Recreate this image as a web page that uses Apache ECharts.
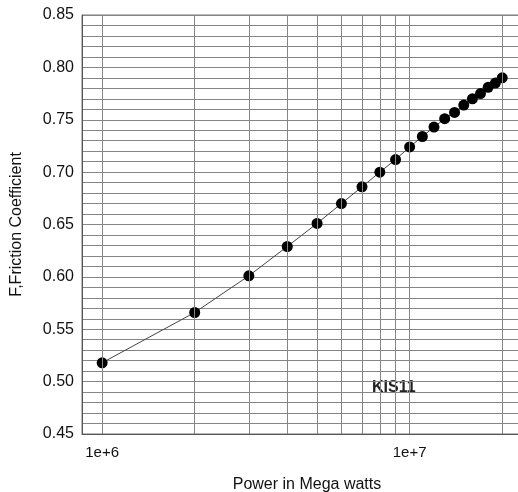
<!DOCTYPE html>
<html>
<head>
<meta charset="utf-8">
<script src="https://cdn.jsdelivr.net/npm/echarts@6/dist/echarts.min.js"></script>
<style>
  html, body { margin: 0; padding: 0; background: #fff; overflow: hidden; }
  #chart { width: 518px; height: 492px; }
</style>
</head>
<body>
<div id="chart"></div>
<script>
// power values (x, log axis) and friction coefficient readings
const power = [1e6, 2e6, 3e6, 4e6, 5e6, 6e6, 7e6, 8e6, 9e6, 1e7,
  1.1e7, 1.2e7, 1.3e7, 1.4e7, 1.5e7, 1.6e7, 1.7e7, 1.8e7, 1.9e7, 2e7]
const friction = [0.518, 0.566, 0.601, 0.629, 0.651, 0.670, 0.686, 0.700, 0.712, 0.724,
  0.734, 0.743, 0.751, 0.757, 0.764, 0.770, 0.775, 0.781, 0.785, 0.790]
// vertical grid lines of the log paper
const xGrid = [1e6, 2e6, 3e6, 4e6, 5e6, 6e6, 7e6, 8e6, 9e6, 1e7, 2e7]
const xMin = 8.6e5
const xMax = 2.5e7
const yMin = 0.45
const yMax = 0.85
const yStep = 0.05

const chart = echarts.init(document.getElementById("chart"))

const font = "Arial, 'Liberation Sans', sans-serif"
const gridColor = "#858585"

const option = {
  animation: false,
  grid: {
    left: 82,
    right: -14,
    top: 15,
    bottom: 58,
    outerBoundsMode: "none",
    containLabel: false,
    show: true,
    borderColor: "#777",
    borderWidth: 1,
  },
  xAxis: {
    type: "log",
    logBase: 10,
    min: xMin,
    max: xMax,
    name: "Power in Mega watts",
    nameLocation: "middle",
    nameGap: 43,
    nameTextStyle: { fontSize: 16, color: "#111", fontFamily: font },
    axisLine: { show: true, lineStyle: { color: "#555" } },
    axisTick: { show: false },
    splitLine: { show: false },
    axisLabel: {
      margin: 11,
      fontSize: 15,
      color: "#111",
      fontFamily: font,
      showMinLabel: false,
      showMaxLabel: false,
      formatter: (v) => {
        const e = Math.log10(v)
        return Math.abs(e - Math.round(e)) < 1e-6 ? "1e+" + Math.round(e) : ""
      },
    },
  },
  yAxis: {
    type: "value",
    min: yMin,
    max: yMax,
    interval: yStep,
    name: "F,Friction Coefficient",
    nameLocation: "middle",
    nameGap: 57,
    nameTextStyle: { fontSize: 16, color: "#111", fontFamily: font },
    axisLine: { show: true, lineStyle: { color: "#555" } },
    axisTick: { show: false },
    axisLabel: {
      margin: 8,
      fontSize: 16,
      color: "#111",
      fontFamily: font,
      formatter: (v) => v.toFixed(2),
    },
    splitLine: { show: true, lineStyle: { color: gridColor, width: 1 } },
    minorTick: { show: false, splitNumber: 5 },
    minorSplitLine: { show: true, lineStyle: { color: gridColor, width: 1 } },
  },
  graphic: [
    {
      type: "text",
      left: 372,
      top: 380,
      style: {
        text: "KIS11",
        font: "bold 16px Arial, 'Liberation Sans', sans-serif",
        fill: "#222",
      },
    },
  ],
  series: [
    {
      type: "line",
      data: [],
      z: 1,
      silent: true,
      markLine: {
        silent: true,
        symbol: "none",
        label: { show: false },
        lineStyle: { color: gridColor, type: "solid", width: 1 },
        data: xGrid.map((v) => ({ xAxis: v })),
      },
    },
    {
      type: "line",
      z: 3,
      data: power.map((p, i) => [p, friction[i]]),
      symbol: "circle",
      symbolSize: 11,
      itemStyle: { color: "#000", borderWidth: 0 },
      lineStyle: { color: "#444", width: 1 },
    },
  ],
}
chart.setOption(option)
</script>
</body>
</html>
